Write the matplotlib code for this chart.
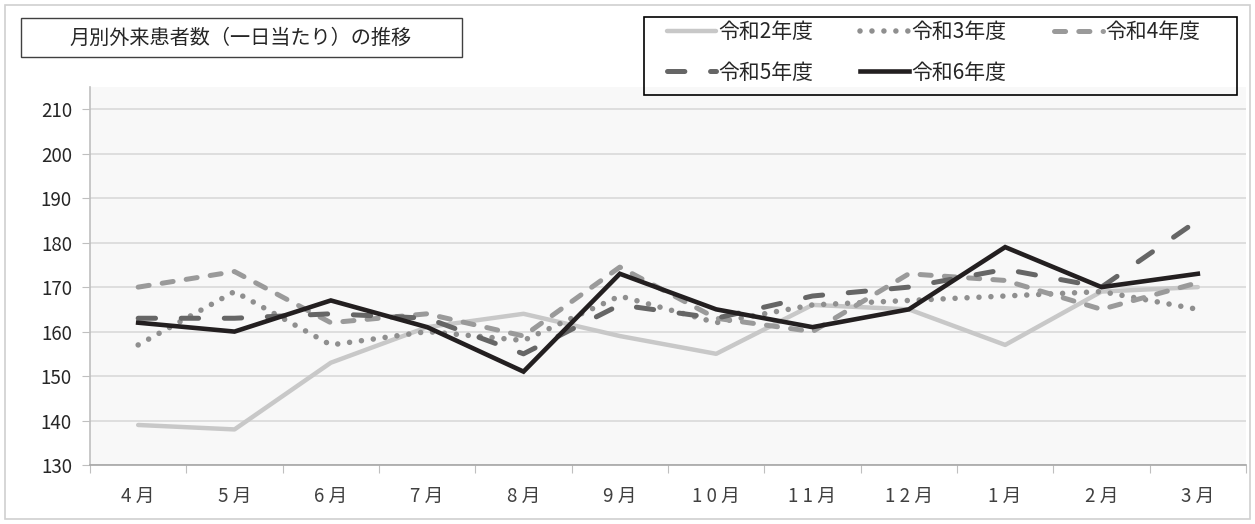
import matplotlib
matplotlib.use("Agg")
import matplotlib.pyplot as plt
from matplotlib.patches import Rectangle

plt.rcParams['font.family'] = ['Noto Sans CJK JP', 'DejaVu Sans']
plt.rcParams['lines.scale_dashes'] = False

# data
months = ["4 月", "5 月", "6 月", "7 月", "8 月", "9 月",
          "1 0 月", "1 1 月", "1 2 月", "1 月", "2 月", "3 月"]
r2 = [139, 138, 153, 161, 164, 159, 155, 166, 165, 157, 169, 170]
r3 = [157, 169, 157, 160, 158, 168, 162, 166, 167, 168, 169, 165]
r4 = [170, 173.5, 162, 164, 159, 174.5, 163, 160, 173, 171.5, 165, 171]
r5 = [163, 163, 164, 163, 155, 166, 163, 168, 170, 174, 170, 185]
r6 = [162, 160, 167, 161, 151, 173, 165, 161, 165, 179, 170, 173]
labels = ["令和2年度", "令和3年度", "令和4年度", "令和5年度", "令和6年度"]
yticks = [130, 140, 150, 160, 170, 180, 190, 200, 210]

W, H = 1255, 524
fig = plt.figure(figsize=(W / 100, H / 100), dpi=100)

# axes placed in pixel terms
ax = fig.add_axes([90 / W, 1 - 465 / H, (1246 - 90) / W, (465 - 87) / H])
ax.set_facecolor('#f8f8f8')

x = range(len(months))
styles = [
    dict(color='#c8c8c8', lw=3.2, solid_capstyle='round'),
    dict(color='#8f8f8f', lw=4.0, dashes=(0.01, 8.6), dash_capstyle='round'),
    dict(color='#9a9a9a', lw=3.6, dashes=(8, 9.5), dash_capstyle='round'),
    dict(color='#666666', lw=3.6, dashes=(12.5, 18.5), dash_capstyle='round'),
    dict(color='#231f20', lw=3.3, solid_joinstyle='miter'),
]
lines = []
for i, (vals, st) in enumerate(zip([r2, r3, r4, r5, r6], styles)):
    ln, = ax.plot(x, vals, label=labels[i], zorder=3 + i, **st)
    lines.append(ln)

ax.set_xlim(-0.5, len(months) - 0.5)
ax.set_ylim(130, 215)
ax.set_yticks(yticks)
ax.yaxis.grid(True, color='#d9d9d9', lw=1.2)
ax.set_axisbelow(True)
ax.tick_params(axis='y', length=6, color='#bfbfbf', labelsize=13.5,
               labelcolor='#262626', pad=7)

# category ticks at bin edges, labels in bin centres
ax.set_xticks([i - 0.5 for i in range(len(months) + 1)])
ax.set_xticklabels([])
ax.set_xticks(list(x), minor=True)
ax.set_xticklabels(months, minor=True)
ax.tick_params(axis='x', which='major', length=6, color='#bfbfbf')
ax.tick_params(axis='x', which='minor', length=0, labelsize=13.5,
               labelcolor='#404040', pad=15)

for s in ['top', 'right']:
    ax.spines[s].set_visible(False)
ax.spines['left'].set_color('#bfbfbf')
ax.spines['bottom'].set_color('#a6a6a6')
ax.spines['left'].set_linewidth(1.2)
ax.spines['bottom'].set_linewidth(1.2)

# outer chart border
fig.patches.append(Rectangle((5 / W, 5 / H), (1250 - 5) / W, (519 - 5) / H,
                             transform=fig.transFigure, fill=False,
                             edgecolor='#d0d0d0', lw=1.2, zorder=0))

# title box
fig.patches.append(Rectangle((21 / W, 1 - 57 / H), (462 - 21) / W, (57 - 18) / H,
                             transform=fig.transFigure, facecolor='white',
                             edgecolor='#404040', lw=1.0, zorder=5))
fig.text(241 / W, 1 - 38 / H, "月別外来患者数（一日当たり）の推移",
         ha='center', va='center', fontsize=14.5, color='#262626', zorder=6)

# legend box drawn separately, entries filled row by row
fig.patches.append(Rectangle((644 / W, 1 - 95 / H), (1237 - 644) / W, (95 - 17) / H,
                             transform=fig.transFigure, fill=False,
                             edgecolor='#000000', lw=1.2, zorder=5))
order = [0, 3, 1, 4, 2]
leg = fig.legend(handles=[lines[i] for i in order],
                 labels=[labels[i] for i in order], ncol=3,
                 loc='upper left', bbox_to_anchor=(667 / W, 1 - 21 / H),
                 frameon=False, fontsize=15,
                 handlelength=2.35, handletextpad=0.12, columnspacing=2.25,
                 labelspacing=0.9, borderpad=0, borderaxespad=0)
for t in leg.get_texts():
    t.set_color('#262626')

fig.savefig("out.png", dpi=100)
